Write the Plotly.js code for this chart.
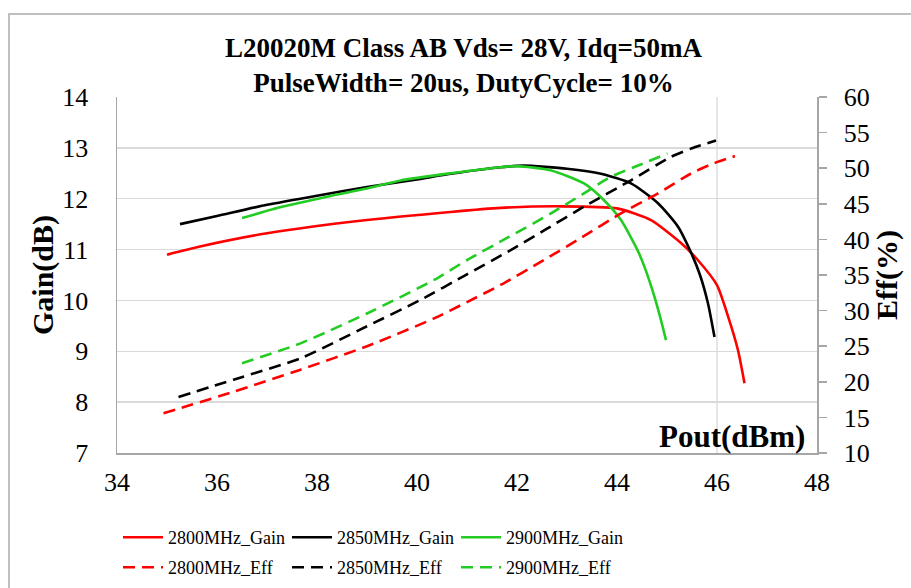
<!DOCTYPE html>
<html>
<head>
<meta charset="utf-8">
<script src="https://cdn.plot.ly/plotly-3.0.1.min.js"></script>
<style>html,body{margin:0;padding:0;background:#fff;}#chart{width:911px;height:588px;}</style>
</head>
<body>
<div id="chart"></div>
<script>
// Gain curves (dB) vs Pout (dBm)
const gain2800X = [35, 35.66, 37, 39, 40.67, 41.67, 42.88, 44.0, 44.68, 45.28, 45.62, 46.0, 46.2, 46.42, 46.55];
const gain2800Y = [10.9, 11.06, 11.32, 11.58, 11.74, 11.82, 11.85, 11.81, 11.58, 11.13, 10.79, 10.3, 9.75, 9.02, 8.37];
const gain2850X = [35.26, 36, 37, 38, 39, 40, 40.67, 41.67, 42.14, 43.0, 43.68, 44.28, 44.82, 45.22, 45.49, 45.66, 45.82, 45.95];
const gain2850Y = [11.5, 11.66, 11.88, 12.06, 12.23, 12.38, 12.49, 12.62, 12.65, 12.59, 12.49, 12.30, 11.91, 11.45, 10.92, 10.5, 9.94, 9.28];
const gain2900X = [36.5, 37.3, 38.2, 39.0, 39.67, 40.67, 41.67, 42.0, 42.67, 43.34, 43.74, 44.08, 44.41, 44.55, 44.75, 44.88, 44.98];
const gain2900Y = [11.62, 11.84, 12.04, 12.2, 12.36, 12.5, 12.62, 12.64, 12.56, 12.30, 11.97, 11.58, 10.99, 10.66, 10.07, 9.61, 9.22];
// Efficiency curves (%) vs Pout (dBm)
const eff2800X = [34.93, 35.5, 36.33, 37.67, 39.0, 40.34, 41.0, 41.67, 42.54, 43.3, 44.08, 44.82, 45.48, 45.9, 46.36];
const eff2800Y = [15.6, 16.8, 18.6, 21.7, 25.0, 28.9, 31.2, 33.6, 37.1, 40.3, 43.65, 46.46, 49.26, 50.6, 51.7];
const eff2850X = [35.23, 36.33, 37.67, 39.0, 40.07, 41.0, 41.9, 42.6, 43.34, 44.28, 45.08, 45.5, 45.98];
const eff2850Y = [17.85, 20.3, 23.3, 27.8, 31.5, 35.1, 38.6, 41.5, 44.6, 48.3, 51.6, 52.8, 53.9];
const eff2900X = [36.5, 37.67, 39.0, 40.34, 41.0, 41.8, 42.68, 43.3, 43.88, 44.5, 45.01];
const eff2900Y = [22.6, 25.4, 29.6, 34.3, 37.1, 40.2, 43.65, 46.3, 48.8, 50.6, 52.06];

const seriesNames = ['2800MHz_Gain', '2850MHz_Gain', '2900MHz_Gain', '2800MHz_Eff', '2850MHz_Eff', '2900MHz_Eff'];
const xTicks = [34, 36, 38, 40, 42, 44, 46, 48];
const gainTicks = [7, 8, 9, 10, 11, 12, 13, 14];
const effTicks = [10, 15, 20, 25, 30, 35, 40, 45, 50, 55, 60];
const markerLineX = [46];

const RED = '#ff0000', BLACK = '#000000', GREEN = '#22cc22';
const FONT = 'Liberation Serif, Times New Roman, serif';
const DASH = '12px,7px';

function tr(x, y, name, color, dashed) {
  return {
    x: x, y: y, name: name, type: 'scatter', mode: 'lines',
    yaxis: dashed ? 'y2' : 'y',
    legend: dashed ? 'legend2' : 'legend',
    line: {color: color, width: 2.6, dash: dashed ? DASH : 'solid', shape: 'spline', smoothing: 0.6},
    hoverinfo: 'x+y'
  };
}

const data = [
  tr(gain2800X, gain2800Y, seriesNames[0], RED, false),
  tr(gain2850X, gain2850Y, seriesNames[1], BLACK, false),
  tr(gain2900X, gain2900Y, seriesNames[2], GREEN, false),
  tr(eff2800X, eff2800Y, seriesNames[3], RED, true),
  tr(eff2850X, eff2850Y, seriesNames[4], BLACK, true),
  tr(eff2900X, eff2900Y, seriesNames[5], GREEN, true)
];

const L = 117, R = 817, T = 97, B = 453;
const PW = R - L, PH = B - T;
const px = v => (v - L) / PW;
const py = v => (B - v) / PH;

function legendAt(yTop) {
  return {
    orientation: 'h', x: px(118), xanchor: 'left', y: py(yTop), yanchor: 'top',
    entrywidth: 114, entrywidthmode: 'pixels', tracegroupgap: 0,
    font: {family: FONT, size: 18, color: '#000'},
    bgcolor: 'rgba(0,0,0,0)', borderwidth: 0, itemwidth: 40
  };
}

const layout = {
  width: 911, height: 588,
  margin: {l: L, r: 911 - R, t: T, b: 588 - B, pad: 0, autoexpand: false},
  paper_bgcolor: '#ffffff', plot_bgcolor: '#ffffff',
  font: {family: FONT, color: '#000', size: 26},
  showlegend: true,
  title: {
    text: '<b>L20020M Class AB Vds= 28V, Idq=50mA</b><br><b>PulseWidth= 20us, DutyCycle= 10%</b>',
    font: {family: FONT, size: 27, color: '#000'},
    x: 0.495, xref: 'paper', xanchor: 'center',
    y: 1 - 57 / 588, yref: 'container', yanchor: 'middle'
  },
  xaxis: {
    range: [34, 48], tickvals: xTicks, ticktext: xTicks.map(String),
    showgrid: false, zeroline: false, showline: true, linecolor: '#a6a6a6', linewidth: 1.5,
    ticks: '', ticklabelstandoff: 5,
    tickfont: {family: FONT, size: 26, color: '#000'}
  },
  yaxis: {
    range: [7, 14], tickvals: gainTicks, ticktext: gainTicks.map(String),
    showgrid: true, gridcolor: '#d9d9d9', gridwidth: 1.3,
    zeroline: false, showline: true, linecolor: '#a6a6a6', linewidth: 1.5,
    ticks: '', ticklabelstandoff: 22,
    tickfont: {family: FONT, size: 26, color: '#000'},
    title: {text: '<b>Gain(dB)</b>', font: {family: FONT, size: 30, color: '#000'}, standoff: 0}
  },
  yaxis2: {
    overlaying: 'y', side: 'right',
    range: [10, 60], tickvals: effTicks, ticktext: effTicks.map(String),
    showgrid: false, zeroline: false, showline: true, linecolor: '#a6a6a6', linewidth: 1.5,
    ticks: 'outside', ticklen: 8, tickcolor: '#a6a6a6', tickwidth: 1.5, ticklabelstandoff: 12,
    tickfont: {family: FONT, size: 26, color: '#000'},
    title: {text: '<b>Eff(%)</b>', font: {family: FONT, size: 30, color: '#000'}, standoff: 0}
  },
  legend: legendAt(519),
  legend2: legendAt(549),
  annotations: [{
    text: '<b>Pout(dBm)</b>', xref: 'paper', yref: 'paper',
    x: px(807), y: py(436), xanchor: 'right', yanchor: 'middle', showarrow: false,
    font: {family: FONT, size: 31, color: '#000'}
  }],
  shapes: [
    {type: 'line', xref: 'x', yref: 'paper', x0: markerLineX[0], x1: markerLineX[0], y0: 0, y1: 1,
     line: {color: '#d9d9d9', width: 1.3}, layer: 'below'},
    {type: 'rect', xref: 'paper', yref: 'paper', x0: px(9), x1: px(930), y0: py(14), y1: py(620),
     line: {color: '#bfbfbf', width: 2}, fillcolor: 'rgba(0,0,0,0)', layer: 'below'}
  ]
};

Plotly.newPlot('chart', data, layout, {displayModeBar: false, staticPlot: true});
</script>
</body>
</html>
